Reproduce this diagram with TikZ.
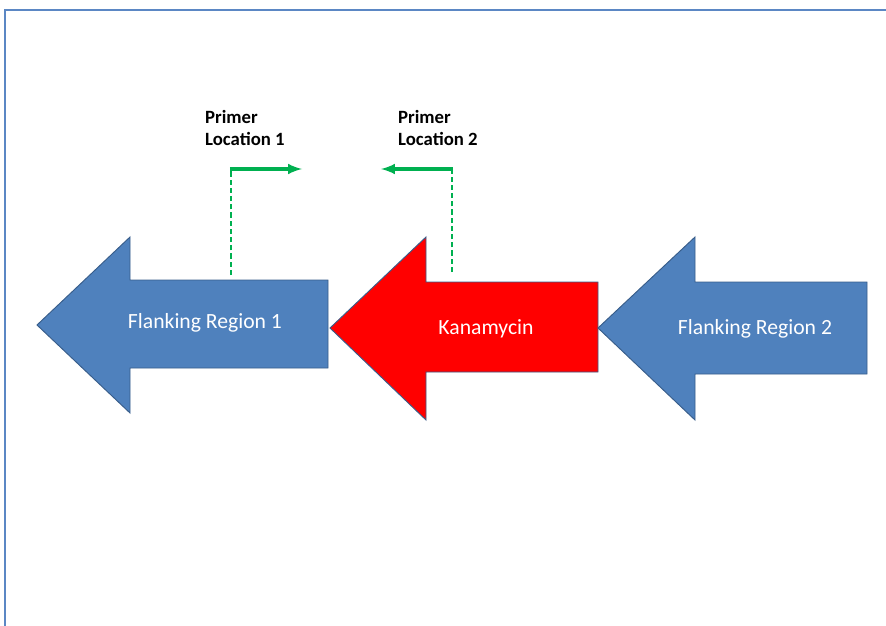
\documentclass[tikz,border=0pt]{standalone}
\usepackage{fontspec}
\setmainfont{Carlito}
\usepackage{xcolor}
\usetikzlibrary{arrows}

\definecolor{geneblue}{HTML}{4F81BD}
\definecolor{geneedge}{HTML}{385D8A}
\definecolor{primergreen}{HTML}{00B050}
\definecolor{framecol}{HTML}{5B87C4}

\begin{document}
\begin{tikzpicture}[x=0.3mm,y=-0.3mm]

	\tikzstyle{flank} = [fill=geneblue,draw=geneedge,line width=0.8pt,line join=miter]
	\tikzstyle{kan} = [fill=red,draw=geneedge,line width=0.8pt,line join=miter]
	\tikzstyle{glabel} = [text=white,font=\fontsize{18.5}{22}\selectfont,anchor=base,inner sep=0pt]
	\tikzstyle{plabel} = [font=\bfseries\fontsize{16}{18.8}\selectfont,align=left,anchor=north west,inner sep=0pt]
	\tikzstyle{pdash} = [primergreen,line width=2pt,dash pattern=on 4.5pt off 2.5pt]
	\tikzstyle{parrow} = [primergreen,line width=3pt,-latex]

	\useasboundingbox (0,0) rectangle (886,626);
	\draw[framecol,line width=1.2pt] (5,640) -- (5,10) -- (900,10);

	% gene arrows
	\draw[flank] (37,325) -- (130,237) -- (130,280) -- (328,280) -- (328,368) -- (130,368) -- (130,413) -- cycle;
	\draw[kan] (330,328) -- (426,237) -- (426,282) -- (598,282) -- (598,372) -- (426,372) -- (426,420) -- cycle;
	\draw[flank] (598,328) -- (695,237) -- (695,282) -- (867,282) -- (867,374) -- (695,374) -- (695,420) -- cycle;

	\node[glabel] (fr1) at (205,328) {Flanking Region 1};
	\node[glabel] (kan) at (486,334) {Kanamycin};
	\node[glabel] (fr2) at (755,334) {Flanking Region 2};

	% primers
	\node[plabel] (pl1) at (205,110) {Primer\\Location 1};
	\node[plabel] (pl2) at (398,110) {Primer\\Location 2};

	\coordinate (p1a) at (231,275);
	\coordinate (p1b) at (231,169);
	\coordinate (p1c) at (302,169);
	\coordinate (p2a) at (452,272);
	\coordinate (p2b) at (452,169);
	\coordinate (p2c) at (381,169);

	\draw[pdash] (p1a) -- (p1b);
	\draw[parrow] ([xshift=-1pt]p1b) -- (p1c);
	\draw[pdash] (p2a) -- (p2b);
	\draw[parrow] ([xshift=1pt]p2b) -- (p2c);

\end{tikzpicture}
\end{document}
